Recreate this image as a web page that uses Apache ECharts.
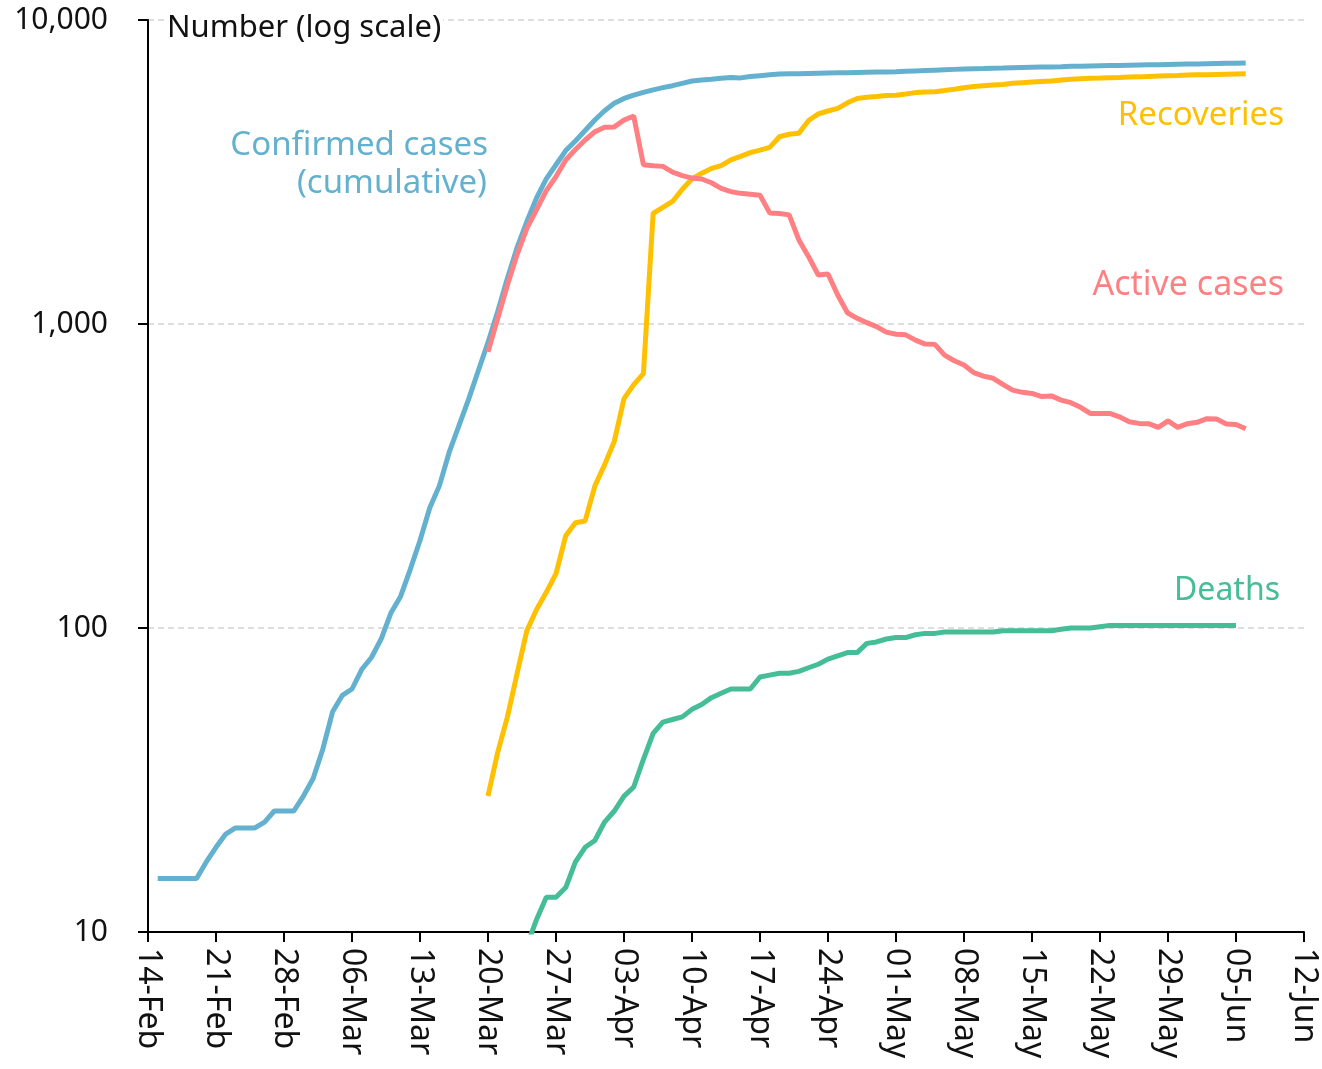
<!DOCTYPE html>
<html>
<head>
<meta charset="utf-8">
<title>Cases (log scale)</title>
<script src="https://cdn.jsdelivr.net/npm/echarts@6/dist/echarts.min.js"></script>
<style>
	html, body {
	margin: 0;
	padding: 0;
	background: #ffffff;
	}
	#chartDiv {
	width: 1322px;
	height: 1069px;
	}
</style>
</head>
<body>
<div id="chartDiv"></div>
<script>
// x axis: day 0 = 14-Feb, one tick every 7 days
var tickLabels = ['14-Feb','21-Feb','28-Feb','06-Mar','13-Mar','20-Mar','27-Mar','03-Apr','10-Apr','17-Apr','24-Apr','01-May','08-May','15-May','22-May','29-May','05-Jun','12-Jun'];

// first day of each series (day index from 14-Feb)
var confirmedStart = 1;
var activeStart = 35;
var recoveriesStart = 35;
var deathsStart = 39;

var confirmedValues = [15,15,15,15,15,17,19,21,22,22,22,23,25,25,25,28,32,40,53,60,63,73,80,92,112,127,156,194,248,294,378,462,565,702,870,
	1100,1415,1786,2173,2600,3000,3340,3720,4000,4330,4690,5030,5320,5520,5660,5780,5890,5990,6080,6190,6300,6350,6380,6430,6470,
	6450,6520,6560,6600,6640,6650,6660,6670,6680,6690,6700,6710,6720,6730,6740,6750,6760,6780,6800,6820,6840,6860,6880,6900,6910,
	6920,6940,6950,6970,6980,6990,7000,7010,7020,7040,7050,7060,7070,7080,7090,7100,7110,7120,7130,7140,7150,7160,7170,7180,7190,
	7200,7210,7220];

var activeValues = [810,1045,1343,1695,2063,2378,2745,3055,3465,3750,4030,4290,4440,4450,4690,4830,3340,3315,3300,3160,3075,3020,3000,2915,2795,2725,
	2690,2670,2650,2320,2310,2285,1890,1665,1449,1460,1245,1089,1044,1010,980,940,925,921,885,859,857,790,757,733,692,674,663,633,606,596,
	591,577,580,562,551,532,508,508,508,495,477,471,470,457,480,457,470,475,488,487,469,467,452];

var recoveriesValues = [28,39,51,71,98,115,131,151,201,222,225,293,344,411,568,632,687,2310,2420,2530,2775,3000,3135,3250,3320,3465,
	3560,3660,3730,3810,4130,4210,4240,4670,4910,5020,5120,5340,5520,5570,5600,5640,5660,5710,5770,5800,5810,5860,5920,5990,6040,6080,
	6110,6140,6190,6220,6250,6280,6300,6350,6380,6410,6430,6440,6460,6470,6490,6500,6520,6540,6560,6570,6590,6600,6610,6620,6630,6640,6650];

var deathsValues = [9,11,13,13,14,17,19,20,23,25,28,30,37,45,49,50,51,54,56,59,61,63,63,63,69,70,71,71,72,74,76,79,81,83,83,89,90,92,93,93,
	95,96,96,97,97,97,97,97,97,98,98,98,98,98,98,99,100,100,100,101,102,102,102,102,102,102,102,102,102,102,102,102,102,102];

var seriesNames = ['Confirmed cases','Active cases','Recoveries','Deaths'];
var seriesColors = ['#63b1cf','#ff7f83','#ffc000','#45bd96'];

function toPairs(start, values){
	var out = [];
	for(var i=0;i<values.length;i++){
		out.push([start+i, values[i]]);
	}
	return out;
}

var fontName = '"Noto Sans", "DejaVu Sans", sans-serif';

var myChart = echarts.init(document.getElementById('chartDiv'), null, {renderer:'canvas'});
var option = {
	animation: false,
	backgroundColor: '#ffffff',
	grid: {
		left: 148,
		right: 18,
		top: 20,
		bottom: 137
	},
	xAxis: {
		type: 'value',
		min: 0,
		max: 119,
		interval: 7,
		axisLine: {
			show: true,
			onZero: false,
			lineStyle: {color: '#000000', width: 2}
		},
		axisTick: {
			show: true,
			length: 10,
			lineStyle: {color: '#000000', width: 2}
		},
		axisLabel: {
			rotate: -90,
			margin: 16,
			color: '#111111',
			fontSize: 32,
			fontFamily: fontName,
			formatter: function(v){
				return tickLabels[Math.round(v/7)] || '';
			}
		},
		splitLine: {show: false}
	},
	yAxis: {
		type: 'log',
		logBase: 10,
		min: 10,
		max: 10000,
		axisLine: {
			show: true,
			lineStyle: {color: '#000000', width: 2}
		},
		axisTick: {
			show: true,
			length: 10,
			lineStyle: {color: '#000000', width: 2}
		},
		axisLabel: {
			margin: 40,
			color: '#111111',
			fontSize: 30,
			fontFamily: fontName,
			formatter: function(v){
				return Math.round(v).toLocaleString('en-US');
			}
		},
		splitLine: {
			show: true,
			lineStyle: {color: '#d4d4d4', width: 1.5, type: [6,4]}
		},
		minorTick: {show: false}
	},
	series: [
		{
			name: seriesNames[0],
			type: 'line',
			data: toPairs(confirmedStart, confirmedValues),
			showSymbol: false,
			symbol: 'none',
			clip: true,
			lineStyle: {color: seriesColors[0], width: 5},
			z: 2
		},
		{
			name: seriesNames[2],
			type: 'line',
			data: toPairs(recoveriesStart, recoveriesValues),
			showSymbol: false,
			symbol: 'none',
			clip: true,
			lineStyle: {color: seriesColors[2], width: 5},
			z: 3
		},
		{
			name: seriesNames[1],
			type: 'line',
			data: toPairs(activeStart, activeValues),
			showSymbol: false,
			symbol: 'none',
			clip: true,
			lineStyle: {color: seriesColors[1], width: 5},
			z: 4
		},
		{
			name: seriesNames[3],
			type: 'line',
			data: toPairs(deathsStart, deathsValues),
			showSymbol: false,
			symbol: 'none',
			clip: true,
			lineStyle: {color: seriesColors[3], width: 5},
			z: 5
		}
	],
	graphic: [
		{type:'text', x:165, y:28, z:10, style:{text:'Number (log scale)', fill:'#111111', font:'31px ' + fontName, align:'left', verticalAlign:'middle', backgroundColor:'#ffffff', padding:[0,2,0,2]}},
		{type:'text', x:488, y:146, style:{text:'Confirmed cases', fill:seriesColors[0], font:'33px ' + fontName, align:'right', verticalAlign:'middle'}},
		{type:'text', x:487, y:184, style:{text:'(cumulative)', fill:seriesColors[0], font:'33px ' + fontName, align:'right', verticalAlign:'middle'}},
		{type:'text', x:1284, y:116, style:{text:'Recoveries', fill:seriesColors[2], font:'33px ' + fontName, align:'right', verticalAlign:'middle'}},
		{type:'text', x:1284, y:285, style:{text:'Active cases', fill:seriesColors[1], font:'34px ' + fontName, align:'right', verticalAlign:'middle'}},
		{type:'text', x:1280, y:591, style:{text:'Deaths', fill:seriesColors[3], font:'32px ' + fontName, align:'right', verticalAlign:'middle'}}
	]
};
myChart.setOption(option);
window.addEventListener('resize', function () {
	myChart.resize();
});
</script>
</body>
</html>
